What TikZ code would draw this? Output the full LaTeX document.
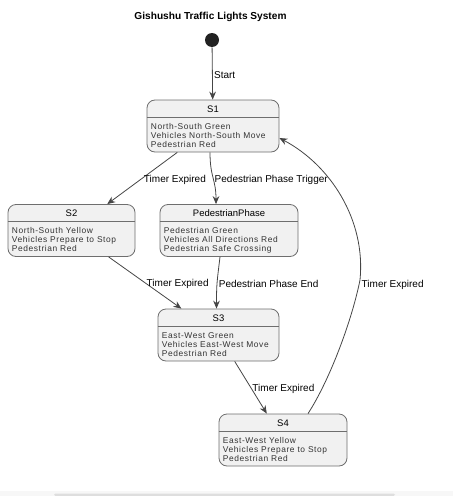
\documentclass[tikz,border=0pt]{standalone}
\usepackage{fontspec}
\setsansfont{Liberation Sans}
\newfontfamily\statefont[LetterSpace=7]{Liberation Sans}
\usetikzlibrary{arrows.meta, calc}
\definecolor{boxfill}{HTML}{F1F1F1}
\definecolor{boxline}{HTML}{6E6E6E}
\definecolor{edgeline}{HTML}{454545}
\definecolor{bodytext}{HTML}{333333}
\definecolor{initfill}{HTML}{222222}

\begin{document}
\begin{tikzpicture}
    [font=\sffamily, x=.75pt, y=-.75pt,
     >={Stealth[length=6pt, width=5pt, inset=2pt]},
     state/.style={draw=boxline, fill=boxfill, rounded corners=6pt,
                   line width=.6pt, minimum height=39pt, inner sep=0pt},
     statetitle/.style={inner sep=0pt, font=\sffamily\fontsize{7.1}{8}\selectfont},
     statebody/.style={inner sep=0pt, align=left, text=bodytext,
                       font=\statefont\fontsize{6.3}{6.75}\selectfont},
     transition/.style={->, draw=edgeline, line width=.6pt},
     translabel/.style={inner sep=1pt, yshift=-1pt, font=\sffamily\fontsize{7.5}{9}\selectfont},
    ]
    \useasboundingbox (0, 0) rectangle (453, 496);

    % Title
    \node[inner sep=0pt, font=\sffamily\bfseries\fontsize{7.6}{9}\selectfont]
        (title) at (210.5, 17) {Gishushu Traffic Lights System};

    % Initial state
    \node[circle, fill=initfill, minimum size=10.5pt, inner sep=0pt] (init) at (212, 40) {};

    % States
    \foreach \sn / \cx / \cy / \w / \title / \body in
             {S1/213/126/132/S1/{North-South Green\\Vehicles North-South Move\\Pedestrian Red},
              S2/71.5/230.5/127/S2/{North-South Yellow\\Vehicles Prepare to Stop\\Pedestrian Red},
              Ped/229/230.5/138/PedestrianPhase/{Pedestrian Green\\Vehicles All Directions Red\\Pedestrian Safe Crossing},
              S3/218.5/335/121/S3/{East-West Green\\Vehicles East-West Move\\Pedestrian Red},
              S4/283/440/128/S4/{East-West Yellow\\Vehicles Prepare to Stop\\Pedestrian Red}} {
        \node[state, minimum width=\w*.75pt] (\sn) at (\cx, \cy) {};
        % Header
        \node[statetitle] (\sn-title) at ($ (\sn.north)+(0, 9.5) $) {\title};
        \draw[boxline, line width=.6pt]
            ($ (\sn.north west)+(0, 17.5) $) -- ($ (\sn.north east)+(0, 17.5) $);
        % Description
        \node[statebody, anchor=north west] (\sn-body) at ($ (\sn.north west)+(4, 23.5) $) {\body};
    }

    % Transitions
    \draw[transition] (init) -- (S1)
        node[translabel, midway, right] (start-label) {Start};
    \draw[transition] (S1) -- (S2)
        node[translabel, midway, right] (s1s2-label) {Timer Expired};
    \draw[transition] ($ (S1.south)+(-3, 0) $)
        .. controls ($ (S1.south)+(-3, 25) $) and ($ (Ped.north)+(-13, -25) $) ..
        ($ (Ped.north)+(-13, 0) $)
        node[translabel, midway, right] (s1ped-label) {Pedestrian Phase Trigger};
    \draw[transition] (S2) -- (S3)
        node[translabel, midway, right] (s2s3-label) {Timer Expired};
    \draw[transition] ($ (Ped.south)+(-9, 0) $)
        .. controls ($ (Ped.south)+(-12, 25) $) and ($ (S3.north)+(-2, -25) $) ..
        ($ (S3.north)+(-2, 0) $)
        node[translabel, midway, right] (peds3-label) {Pedestrian Phase End};
    \draw[transition] (S3) -- (S4)
        node[translabel, midway, right] (s3s4-label) {Timer Expired};

    \coordinate (bend) at (360, 280);
    \draw[transition] ($ (S4.north)+(25, 0) $)
        .. controls ($ (S4.north)+(47, -34) $) and ($ (bend)+(-8, 40) $) .. (bend)
        node[translabel, right, yshift=-3pt] (s4s1-label) {Timer Expired}
        .. controls ($ (bend)+(6, -60) $) and ($ (S1.east)+(51, 39) $) ..
        ($ (S1.east)+(0, 12) $);

    % Scroll bar
    \fill[black!3] (0, 491) rectangle (453, 496);
    \fill[black!13, rounded corners=1pt] (54, 493.5) rectangle (395, 496);
\end{tikzpicture}
\end{document}
